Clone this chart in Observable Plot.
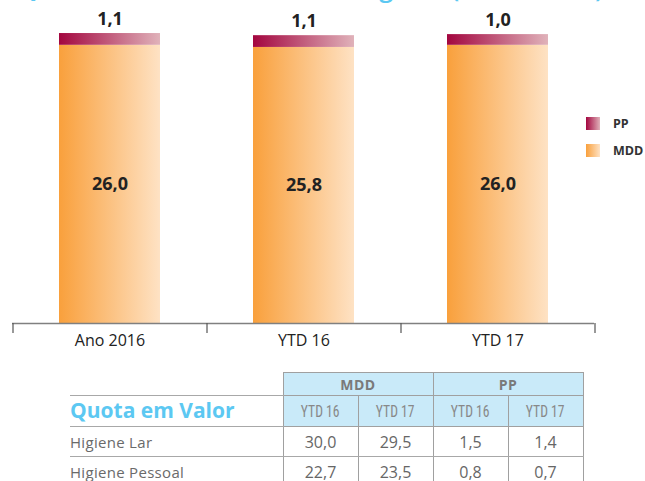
<!DOCTYPE html>
<html>
<head>
<meta charset="utf-8">
<script src="https://cdn.jsdelivr.net/npm/d3@7"></script>
<script src="https://cdn.jsdelivr.net/npm/@observablehq/plot@0.6"></script>
<style>
  html, body { margin: 0; padding: 0; background: #fff; }
  #root { position: relative; width: 645px; height: 481px; overflow: hidden; font-family: "Open Sans", sans-serif; }
  #title { position: absolute; left: 18px; top: -25px; white-space: nowrap; font: 600 25px/25px "Open Sans", sans-serif; color: #5cc8f2; }
  #chart { position: absolute; left: 0; top: 0; }
  .leg { position: absolute; left: 586px; display: flex; align-items: center; font: bold 12.5px "Open Sans", sans-serif; color: #333; }
  .leg .sw { width: 14px; height: 13px; margin-right: 13px; }
  #tbl { position: absolute; left: 70px; top: 372px; border-collapse: collapse; table-layout: fixed; }
  #tbl td { padding: 0; text-align: center; color: #666; box-sizing: border-box; white-space: nowrap; }
  #tbl td.lbl { text-align: left; font: 15px "Open Sans", sans-serif; letter-spacing: 0.3px; color: #6a6a6a; border-bottom: 1.5px solid #a8a8a8; }
  #tbl td.grp { background: #c9eaf9; border: 1.5px solid #a0a0a0; font: bold 14px "Open Sans", sans-serif; letter-spacing: 0.5px; color: #7a7a7a; }
  #tbl td.per { background: #c9eaf9; border: 1.5px solid #a0a0a0; font: 17px "Liberation Sans Narrow", "Roboto Condensed", "Noto Sans", sans-serif; color: #888; }
  #tbl td.per span { display: inline-block; transform: scaleX(0.8); }
  #tbl td.val { border-left: 1.5px solid #a0a0a0; border-right: 1.5px solid #a0a0a0; border-bottom: 1.5px solid #a8a8a8; font: 16px "Open Sans", sans-serif; color: #666; }
  #tbl td.q { text-align: left; font: bold 21px "Open Sans", sans-serif; color: #5cc8f2; border-bottom: 1.5px solid #a8a8a8; vertical-align: bottom; padding-bottom: 2px; }
</style>
</head>
<body>
<div id="root">
  <div id="title"></div>
  <div id="chart"></div>
  <div id="legend"></div>
  <table id="tbl"></table>
</div>
<script>
// ---- data ----
const titleText = "Quota de Mercado MDD-PP Higiene (em Valor %)";
const categories = ["Ano 2016", "YTD 16", "YTD 17"];
const series = ["MDD", "PP"];
const mddValues = [26.0, 25.8, 26.0];
const ppValues = [1.1, 1.1, 1.0];

const tableTitle = "Quota em Valor";
const tableGroups = ["MDD", "PP"];
const tablePeriods = ["YTD 16", "YTD 17"];
const tableRows = ["Higiene Lar", "Higiene Pessoal"];
const tableMDD = [[30.0, 29.5], [22.7, 23.5]];
const tablePP = [[1.5, 1.4], [0.8, 0.7]];

// ---- helpers ----
const fmt = v => d3.format(".1f")(v).replace(".", ",");

const rows = [];
categories.forEach((c, i) => {
  rows.push({cat: c, series: "MDD", value: mddValues[i]});
  rows.push({cat: c, series: "PP", value: ppValues[i]});
});
const totals = categories.map((c, i) => ({cat: c, mdd: mddValues[i], pp: ppValues[i], total: mddValues[i] + ppValues[i]}));

document.getElementById("title").textContent = titleText;

const W = 645, H = 360;
const plot = Plot.plot({
  width: W,
  height: H,
  marginTop: 2,
  marginBottom: 37,
  marginLeft: 12,
  marginRight: 51,
  style: {fontFamily: "Open Sans, sans-serif", color: "#222", background: "transparent", overflow: "visible"},
  x: {domain: categories, paddingInner: 0.48, paddingOuter: 0.24, label: null},
  y: {domain: [0, 30], axis: null},
  color: {domain: series, range: ["url(#gMDD)", "url(#gPP)"]},
  marks: [
    Plot.barY(rows, {x: "cat", y: "value", fill: "series"}),
    Plot.ruleY([0], {stroke: "#808080", strokeWidth: 1.5}),
    Plot.axisX({tickSize: 10, tickFormat: () => "", dx: -97, stroke: "#555", strokeWidth: 1.2}),
    Plot.axisX({ticks: [categories[categories.length - 1]], tickSize: 10, tickFormat: () => "", dx: 97, stroke: "#555", strokeWidth: 1.2}),
    Plot.axisX({tickSize: 0, tickPadding: 11, fontSize: 16, fill: "#222"}),
    Plot.text(totals, {x: "cat", y: "total", text: d => fmt(d.pp), dy: -14, fontSize: 18, fontWeight: "bold", fill: "#222"}),
    Plot.text(totals, {x: "cat", y: d => d.mdd / 2, text: d => fmt(d.mdd), fontSize: 18, fontWeight: "bold", fill: "#222"})
  ]
});

// gradients
const ns = "http://www.w3.org/2000/svg";
const defs = document.createElementNS(ns, "defs");
const grads = {gMDD: ["#f9a03c", "#fee2c4"], gPP: ["#a3063f", "#e0b2ba"]};
for (const [id, [c0, c1]] of Object.entries(grads)) {
  const g = document.createElementNS(ns, "linearGradient");
  g.setAttribute("id", id);
  g.setAttribute("x1", "0"); g.setAttribute("x2", "1"); g.setAttribute("y1", "0"); g.setAttribute("y2", "0");
  [[0, c0], [1, c1]].forEach(([o, c]) => {
    const s = document.createElementNS(ns, "stop");
    s.setAttribute("offset", o);
    s.setAttribute("stop-color", c);
    g.appendChild(s);
  });
  defs.appendChild(g);
}
plot.insertBefore(defs, plot.firstChild);
document.getElementById("chart").appendChild(plot);

// legend (PP on top, MDD below)
const legend = document.getElementById("legend");
[["PP", "gPP", 115], ["MDD", "gMDD", 142]].forEach(([name, id, top]) => {
  const [c0, c1] = grads[id];
  const d = document.createElement("div");
  d.className = "leg";
  d.style.top = top + "px";
  d.innerHTML = `<div class="sw" style="background:linear-gradient(to right, ${c0}, ${c1})"></div><span>${name}</span>`;
  legend.appendChild(d);
});

// table
const tbl = document.getElementById("tbl");
const colW = [213, 75, 75, 75, 75];
const cg = document.createElement("colgroup");
colW.forEach(w => { const c = document.createElement("col"); c.style.width = w + "px"; cg.appendChild(c); });
tbl.appendChild(cg);

let tr = document.createElement("tr");
tr.style.height = "23px";
tr.innerHTML = `<td class="lbl"></td>` + tableGroups.map(g => `<td class="grp" colspan="${tablePeriods.length}">${g}</td>`).join("");
tbl.appendChild(tr);

tr = document.createElement("tr");
tr.style.height = "30px";
tr.innerHTML = `<td class="q">${tableTitle}</td>` + tableGroups.map(() => tablePeriods.map(p => `<td class="per"><span>${p}</span></td>`).join("")).join("");
tbl.appendChild(tr);

tableRows.forEach((r, i) => {
  const t = document.createElement("tr");
  t.style.height = "30px";
  const vals = [...tableMDD[i], ...tablePP[i]];
  t.innerHTML = `<td class="lbl">${r}</td>` + vals.map(v => `<td class="val">${fmt(v)}</td>`).join("");
  tbl.appendChild(t);
});
</script>
</body>
</html>
